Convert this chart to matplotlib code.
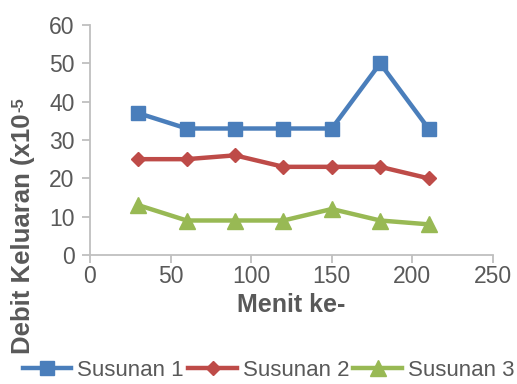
import matplotlib
matplotlib.use("Agg")
import matplotlib.pyplot as plt

menit = [30, 60, 90, 120, 150, 180, 210]
susunan1 = [37, 33, 33, 33, 33, 50, 33]
susunan2 = [25, 25, 26, 23, 23, 23, 20]
susunan3 = [13, 9, 9, 9, 12, 9, 8]
labels = ["Susunan 1", "Susunan 2", "Susunan 3"]

plt.rcParams['font.family'] = ['Liberation Sans', 'DejaVu Sans']
fig = plt.figure(figsize=(5.17, 3.84), dpi=100)
W, H = 517, 384
ax = fig.add_axes([90 / W, 1 - 255 / H, (493 - 90) / W, (255 - 25) / H])

gray = '#595959'
ax.plot(menit, susunan1, color='#4a7ebb', lw=3.2, marker='s', ms=10, label=labels[0])
ax.plot(menit, susunan2, color='#be4b48', lw=3.2, marker='D', ms=7.5, label=labels[1])
ax.plot(menit, susunan3, color='#98b954', lw=3.2, marker='^', ms=11, label=labels[2])

ax.set_xlim(0, 250)
ax.set_ylim(0, 60)
ax.set_xticks(range(0, 251, 50))
ax.set_yticks(range(0, 61, 10))
for s in ['top', 'right']:
    ax.spines[s].set_visible(False)
for s in ['left', 'bottom']:
    ax.spines[s].set_color('#bfbfbf')
    ax.spines[s].set_linewidth(1.3)
ax.tick_params(colors='#bfbfbf', labelcolor=gray, labelsize=16.5, length=6, width=1.3)
ax.tick_params(axis='x', pad=1)
ax.tick_params(axis='y', pad=5)

fig.text(291.5 / W, 1 - 305 / H, "Menit ke-", fontsize=18, fontweight='bold',
         color=gray, ha='center', va='center')
t = fig.text(23 / W, 1 - 354 / H, "Debit Keluaran (x10", rotation=90,
             fontsize=18.5, fontweight='bold', color=gray, ha='center', va='bottom')
fig.canvas.draw()
bb = t.get_window_extent()
fig.text(bb.x0 / W, (bb.y1 + 1) / H, "-5", rotation=90, fontsize=12, fontweight='bold',
         color=gray, ha='left', va='bottom')

ax.legend(loc='center', bbox_to_anchor=(268.5 / W, 1 - 370 / H), bbox_transform=fig.transFigure,
          ncol=3, frameon=False, fontsize=16, labelcolor=gray, handlelength=2.2,
          handletextpad=0.25, columnspacing=0.2, borderpad=0, borderaxespad=0)

fig.savefig("out.png", dpi=100)
